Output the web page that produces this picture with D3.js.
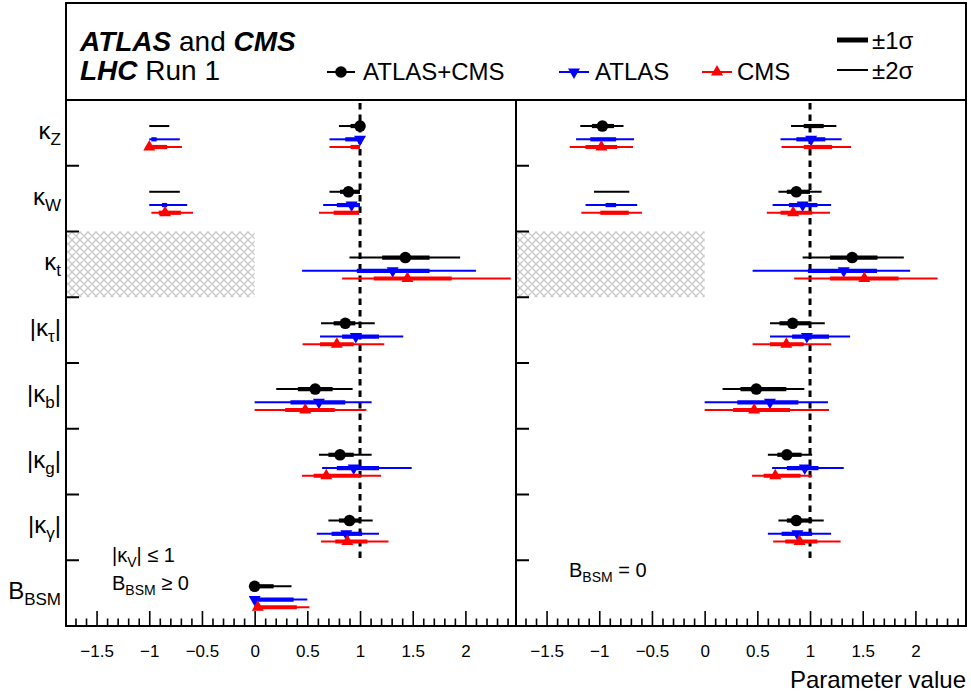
<!DOCTYPE html>
<html><head><meta charset="utf-8">
<script src="https://cdn.jsdelivr.net/npm/d3@7"></script>
<style>
body{margin:0;background:#fff}
svg{display:block}
text{font-family:"Liberation Sans",Arial,Helvetica,sans-serif;fill:#000}
</style>
</head><body>
<svg id="c" width="971" height="695"></svg>
<script>
// ---------------- DATA ----------------
const categories = ["kZ","kW","kt","ktau","kb","kg","kgamma","BBSM"];
const catMain = ["κ","κ","κ","|κ","|κ","|κ","|κ","B"];
const catSub  = ["Z","W","t","τ","b","g","γ","BSM"];
const catEnd  = ["","","","|","|","|","|",""];
const seriesNames = ["ATLAS+CMS","ATLAS","CMS"];
const majorTicks = [-1.5,-1,-0.5,0,0.5,1,1.5,2];
const sigmaLabels = ["±1σ","±2σ"];

// Left panel: |kV| <= 1, B_BSM >= 0
const ge0_comb_best = [1.00, 0.89, 1.43, 0.86, 0.575, 0.81, 0.90, 0.00];
const ge0_comb_1s = [[[0.91,1.0]],[[0.81,1.0]],[[1.21,1.66]],[[0.75,0.955]],[[0.41,0.74]],[[0.70,0.94]],[[0.80,1.0]],[[0,0.18]]];
const ge0_comb_2s = [[[-1.0,-0.81],[0.80,1.0]],[[-1.0,-0.71],[0.71,1.0]],[[0.90,1.95]],[[0.63,1.14]],[[0.205,0.93]],[[0.61,1.11]],[[0.70,1.12]],[[0,0.35]]];

const ge0_atlas_best = [1.00, 0.92, 1.31, 0.96, 0.61, 0.94, 0.87, 0.00];
const ge0_atlas_1s = [[[-0.98,-0.93],[0.86,1.0]],[[-0.88,-0.83],[0.78,1.0]],[[0.97,1.66]],[[0.83,1.18]],[[0.34,0.86]],[[0.78,1.18]],[[0.73,1.02]],[[0,0.37]]];
const ge0_atlas_2s = [[[-1.0,-0.71],[0.71,1.0]],[[-1.0,-0.64],[0.65,1.0]],[[0.45,2.10]],[[0.62,1.41]],[[0,1.11]],[[0.64,1.49]],[[0.59,1.18]],[[0,0.50]]];

const ge0_cms_best = [-1.00, -0.85, 1.45, 0.78, 0.48, 0.68, 0.88, 0.03];
const ge0_cms_1s = [[[-1.0,-0.83],[0.91,1.0]],[[-0.91,-0.70],[0.75,0.99]],[[1.13,1.87]],[[0.62,0.94]],[[0.29,0.76]],[[0.56,1.0]],[[0.765,1.07]],[[0,0.40]]];
const ge0_cms_2s = [[[-1.0,-0.69],[0.71,1.0]],[[-0.98,-0.585],[0.61,0.99]],[[0.83,2.43]],[[0.455,1.23]],[[0,1.06]],[[0.45,1.20]],[[0.63,1.27]],[[0,0.52]]];

// Right panel: B_BSM = 0 (no B_BSM entry)
const eq0_comb_best = [-0.97, 0.87, 1.40, 0.835, 0.49, 0.78, 0.87];
const eq0_comb_1s = [[[-1.07,-0.86],[0.94,1.13]],[[0.78,1.0]],[[1.19,1.64]],[[0.71,1.0]],[[0.34,0.775]],[[0.69,0.92]],[[0.78,1.02]]];
const eq0_comb_2s = [[[-1.18,-0.77],[0.82,1.25]],[[-1.05,-0.715],[0.70,1.11]],[[0.93,1.89]],[[0.62,1.14]],[[0.17,0.946]],[[0.60,1.02]],[[0.70,1.13]]];

const eq0_atlas_best = [1.01, 0.93, 1.32, 0.97, 0.62, 0.95, 0.88];
const eq0_atlas_1s = [[[-1.085,-0.84],[0.87,1.145]],[[-0.94,-0.84],[0.80,1.07]],[[0.98,1.635]],[[0.83,1.18]],[[0.31,0.89]],[[0.78,1.08]],[[0.73,1.02]]];
const eq0_atlas_2s = [[[-1.22,-0.67],[0.72,1.30]],[[-1.13,-0.64],[0.645,1.2]],[[0.455,1.95]],[[0.62,1.38]],[[0,1.17]],[[0.64,1.32]],[[0.60,1.2]]];

const eq0_cms_best = [-0.98, 0.84, 1.515, 0.775, 0.47, 0.67, 0.90];
const eq0_cms_1s = [[[-1.13,-0.83],[0.94,1.21]],[[-0.99,-0.72],[0.72,1.02]],[[1.19,1.84]],[[0.62,0.94]],[[0.27,0.81]],[[0.56,0.91]],[[0.765,1.07]]];
const eq0_cms_2s = [[[-1.28,-0.68],[0.73,1.39]],[[-1.17,-0.595],[0.59,1.19]],[[0.85,2.21]],[[0.455,1.20]],[[0,1.18]],[[0.45,1.02]],[[0.65,1.29]]];

// ---------------- STYLE / LAYOUT ----------------
const colors = ["#000000","#0000ff","#ff0000"];
const rowFrac = [0.396, 0.598, 0.715];
const yTop = 100, yBottom = 626;
const panels = [
  {x0:66, x1:516, series:[[ge0_comb_best,ge0_comb_1s,ge0_comb_2s],[ge0_atlas_best,ge0_atlas_1s,ge0_atlas_2s],[ge0_cms_best,ge0_cms_1s,ge0_cms_2s]]},
  {x0:516, x1:966, series:[[eq0_comb_best,eq0_comb_1s,eq0_comb_2s],[eq0_atlas_best,eq0_atlas_1s,eq0_atlas_2s],[eq0_cms_best,eq0_cms_1s,eq0_cms_2s]]}
];
const xDomain = [-1.79, 2.48];

const svg = d3.select("#c");
const defs = svg.append("defs");
const pat = defs.append("pattern").attr("id","hatch").attr("width",8).attr("height",8)
  .attr("patternUnits","userSpaceOnUse");
pat.append("path").attr("d","M0,0L8,8M8,0L0,8M-1,7L1,9M7,-1L9,1").attr("stroke","#c8c8c8").attr("stroke-width",1.3).attr("fill","none");

const y = d3.scaleBand().domain(categories).range([yTop,yBottom]);

function marker(g, type, cx, cy, color){
  if(type===0){
    g.append("circle").attr("cx",cx).attr("cy",cy).attr("r",5.8).attr("fill",color);
  } else {
    const sym = d3.symbol().type(d3.symbolTriangle).size(62)();
    g.append("path").attr("d",sym).attr("fill",color)
     .attr("transform",`translate(${cx},${cy})` + (type===1?" rotate(180)":""));
  }
}

panels.forEach((p,pi)=>{
  const x = d3.scaleLinear().domain(xDomain).range([p.x0,p.x1]);
  const g = svg.append("g");
  g.append("rect").attr("x",p.x0).attr("y",y("kt")).attr("width",x(0)-p.x0).attr("height",y.bandwidth())
    .attr("fill","url(#hatch)");
  g.append("line").attr("x1",x(1)).attr("x2",x(1)).attr("y1",yTop+3).attr("y2",y("BBSM"))
    .attr("stroke","#000").attr("stroke-width",3).attr("stroke-dasharray","6.5,5");
  p.series.forEach((s,si)=>{
    const [best,s1,s2] = s;
    best.forEach((b,ci)=>{
      const cy = y(categories[ci]) + rowFrac[si]*y.bandwidth();
      s2[ci].forEach(seg=>{
        g.append("line").attr("x1",x(seg[0])).attr("x2",x(seg[1])).attr("y1",cy).attr("y2",cy)
          .attr("stroke",colors[si]).attr("stroke-width",2);
      });
      s1[ci].forEach(seg=>{
        g.append("line").attr("x1",x(seg[0])).attr("x2",x(seg[1])).attr("y1",cy).attr("y2",cy)
          .attr("stroke",colors[si]).attr("stroke-width",4.2);
      });
      marker(g, si, x(b), cy, colors[si]);
    });
  });
  categories.slice(1).forEach(c=>{
    g.append("line").attr("x1",p.x0).attr("x2",p.x0+13).attr("y1",y(c)).attr("y2",y(c))
      .attr("stroke","#000").attr("stroke-width",2);
  });
  const minor = d3.range(-17,25).map(v=>v/10).filter(v=>!majorTicks.some(m=>Math.abs(m-v)<1e-9));
  const ax1 = g.append("g").attr("transform",`translate(0,${yBottom})`)
    .call(d3.axisBottom(x).tickValues(minor).tickSize(-7.5).tickFormat(""));
  const ax2 = g.append("g").attr("transform",`translate(0,${yBottom})`)
    .call(d3.axisBottom(x).tickValues(majorTicks).tickSize(-15).tickPadding(19).tickFormat(d3.format("~g")));
  [ax1,ax2].forEach(a=>{ a.select(".domain").remove(); a.selectAll("line").attr("stroke-width",1.6); });
  ax2.selectAll("text").attr("font-size",17).attr("font-family","Liberation Sans, Arial, sans-serif");
  g.append("rect").attr("x",p.x0).attr("y",yTop).attr("width",p.x1-p.x0).attr("height",yBottom-yTop)
    .attr("fill","none").attr("stroke","#000").attr("stroke-width",2);
});

svg.append("rect").attr("x",66).attr("y",3).attr("width",900).attr("height",yTop-3)
  .attr("fill","none").attr("stroke","#000").attr("stroke-width",2);

categories.forEach((c,i)=>{
  const yc = y(c) + y.bandwidth()/2 + 6;
  const t = svg.append("text").attr("x",61).attr("y",yc).attr("text-anchor","end").attr("font-size",24);
  t.append("tspan").text(catMain[i]);
  t.append("tspan").attr("font-size",17).attr("dy",6).text(catSub[i]);
  if(catEnd[i]) t.append("tspan").attr("dy",-6).text(catEnd[i]);
});

const h1 = svg.append("text").attr("x",80).attr("y",51).attr("font-size",28);
h1.append("tspan").attr("font-weight","bold").attr("font-style","italic").text("ATLAS");
h1.append("tspan").text(" and ");
h1.append("tspan").attr("font-weight","bold").attr("font-style","italic").text("CMS");
const h2 = svg.append("text").attr("x",80).attr("y",80).attr("font-size",28);
h2.append("tspan").attr("font-weight","bold").attr("font-style","italic").text("LHC");
h2.append("tspan").text(" Run 1");

const legX = [[327,355,341,363],[559,589,574,595],[702,732,717,737]];
seriesNames.forEach((n,i)=>{
  const [a,b,m,tx] = legX[i];
  svg.append("line").attr("x1",a).attr("x2",b).attr("y1",72).attr("y2",72).attr("stroke",colors[i]).attr("stroke-width",2);
  marker(svg, i, m, 72, colors[i]);
  svg.append("text").attr("x",tx).attr("y",80).attr("font-size",24).text(n);
});
[[40,5],[70,2]].forEach((d,i)=>{
  svg.append("line").attr("x1",837).attr("x2",868).attr("y1",d[0]).attr("y2",d[0]).attr("stroke","#000").attr("stroke-width",d[1]);
  svg.append("text").attr("x",872).attr("y",d[0]+9).attr("font-size",24).text(sigmaLabels[i]);
});

const a1 = svg.append("text").attr("x",112).attr("y",562).attr("font-size",20);
a1.append("tspan").text("|κ");
a1.append("tspan").attr("font-size",14).attr("dy",5).text("V");
a1.append("tspan").attr("dy",-5).text("| ≤ 1");
const a2 = svg.append("text").attr("x",112).attr("y",590).attr("font-size",20);
a2.append("tspan").text("B");
a2.append("tspan").attr("font-size",14).attr("dy",5).text("BSM");
a2.append("tspan").attr("dy",-5).text(" ≥ 0");
const a3 = svg.append("text").attr("x",569).attr("y",577).attr("font-size",20);
a3.append("tspan").text("B");
a3.append("tspan").attr("font-size",14).attr("dy",5).text("BSM");
a3.append("tspan").attr("dy",-5).text(" = 0");

svg.append("text").attr("x",966).attr("y",688).attr("text-anchor","end").attr("font-size",24).text("Parameter value");
</script>
</body></html>
